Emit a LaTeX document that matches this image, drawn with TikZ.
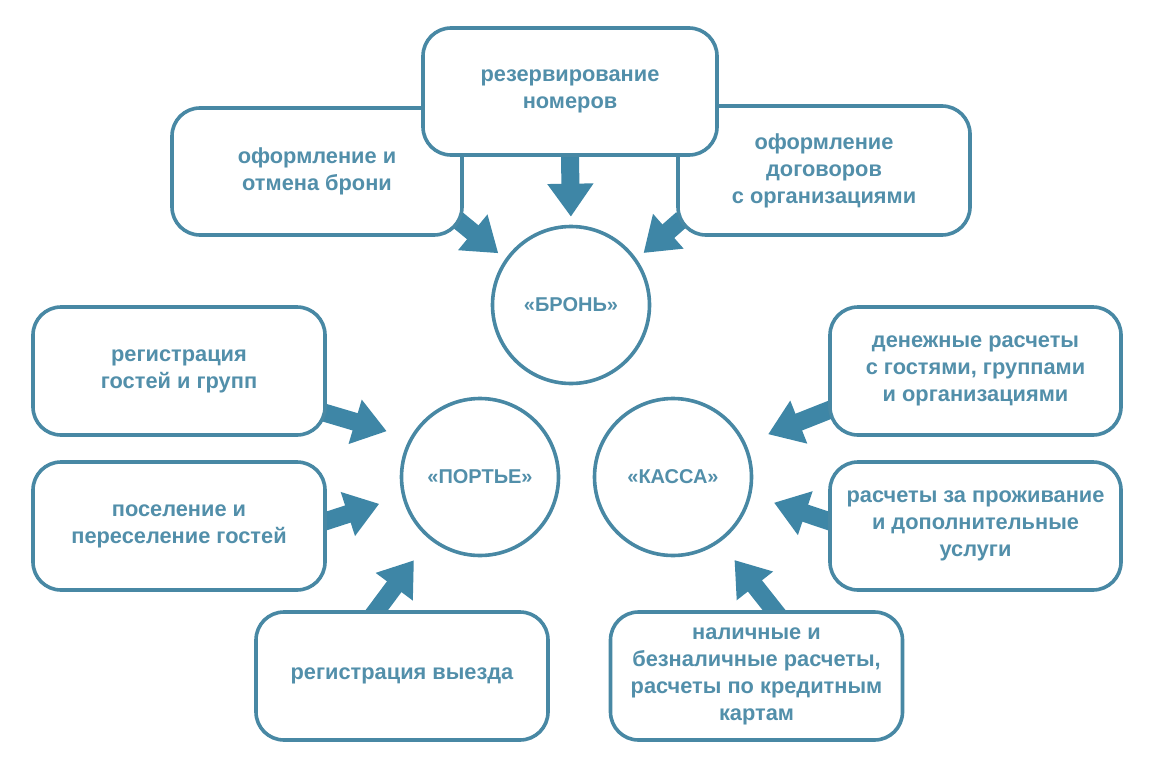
\documentclass[tikz,border=0pt]{standalone}
\usepackage{fontspec}
\setmainfont{Liberation Sans}
\usetikzlibrary{arrows.meta}
\definecolor{bordc}{RGB}{72,136,164}
\definecolor{arrc}{RGB}{62,134,166}
\definecolor{txtc}{RGB}{82,143,170}
\pgfdeclarelayer{paper}
\pgfdeclarelayer{bg}
\pgfsetlayers{paper,bg,main}
\tikzset{
  box/.style={draw=bordc, line width=3.6pt, fill=white, rounded corners=28pt,
    minimum width=292pt, minimum height=128pt, align=center, text=txtc,
    font=\bfseries\fontsize{21.8}{27}\selectfont, inner sep=0pt},
  circ/.style={draw=bordc, line width=3.6pt, fill=white, circle, minimum size=157pt,
    text=txtc, font=\bfseries\fontsize{20}{27}\selectfont, inner sep=0pt},
  barrow/.style={draw=arrc, line width=18pt, shorten <=-8pt,
    -{Triangle[width=44pt,length=33pt]}},
}
\begin{document}
\begin{tikzpicture}[x=1pt,y=-1pt]
\begin{pgfonlayer}{paper}
\fill[white] (0,0) rectangle (1154,768);
\end{pgfonlayer}
\useasboundingbox (0,0) rectangle (1154,768);
% upper side boxes first, top box over them
\node[box, minimum width=290pt, minimum height=127pt] (lt) at (317,171.5) {оформление и\\отмена брони};
\node[box, minimum height=129pt] (rt) at (824,170.5) {оформление\\договоров\\с организациями};
\node[box, minimum width=294pt, minimum height=127pt] (top) at (570,91.5) {резервирование\\номеров};
% circles
\node[circ] (bron) at (571,305) {«БРОНЬ»};
\node[circ] (port) at (480,477) {«ПОРТЬЕ»};
\node[circ] (kass) at (673,477) {«КАССА»};
% lower boxes
\node[box] (l1) at (179,371) {регистрация\\гостей и групп};
\node[box] (l2) at (179,526) {поселение и\\переселение гостей};
\node[box] (bl) at (402,676) {регистрация выезда};
\node[box, minimum width=291pt] (r1) at (975.5,371) {денежные расчеты\\с гостями, группами\\и организациями};
\node[box, minimum width=291pt] (r2) at (975.5,526) {расчеты за проживание\\и дополнительные\\услуги};
\node[box] (br) at (756.5,676) {наличные и\\безналичные расчеты,\\расчеты по кредитным\\картам};
% arrows
\begin{pgfonlayer}{bg}
\draw[barrow, shorten >=8pt] (top.south) -- (bron.north);
\draw[barrow, shorten >=9pt] (lt.-20) -- (bron.145);
\draw[barrow, shorten >=9pt] (rt.200) -- (bron.35);
\draw[barrow, shorten >=24pt] (l1.-16) -- (port.151);
\draw[barrow, shorten >=24pt] (l2.2) -- (port.194);
\draw[barrow, shorten >=26pt] (bl.111) -- (port.231);
\draw[barrow, shorten >=23pt] (br.75) -- (kass.306);
\draw[barrow, shorten >=24pt] (r1.195) -- (kass.25);
\draw[barrow, shorten >=24pt] (r2.178) -- (kass.-13);
\end{pgfonlayer}
\end{tikzpicture}
\end{document}
